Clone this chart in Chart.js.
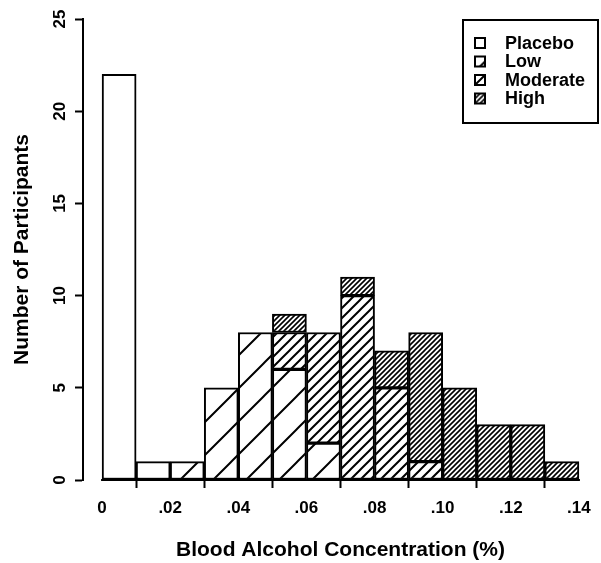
<!DOCTYPE html>
<html>
<head>
<meta charset="utf-8">
<script src="https://cdn.jsdelivr.net/npm/chart.js@4.4.1/dist/chart.umd.min.js"></script>
<style>
  html, body { margin: 0; padding: 0; background: #fff; }
</style>
</head>
<body>
<canvas id="myChart" width="601" height="563"></canvas>
<script>
// bins of width .01, given by their centres
const binCenters = [0.005, 0.015, 0.025, 0.035, 0.045, 0.055, 0.065, 0.075, 0.085, 0.095, 0.105, 0.115, 0.125, 0.135];
const placebo  = [22, 1, 0, 0, 0, 0, 0, 0, 0, 0, 0, 0, 0, 0];
const low      = [0, 0, 1, 5, 8, 6, 2, 0, 0, 0, 0, 0, 0, 0];
const moderate = [0, 0, 0, 0, 0, 2, 6, 10, 5, 1, 0, 0, 0, 0];
const high     = [0, 0, 0, 0, 0, 1, 0, 1, 2, 7, 5, 3, 3, 1];

const xTickValues = [0, 0.02, 0.04, 0.06, 0.08, 0.10, 0.12, 0.14];
const xTickLabels = ['0', '.02', '.04', '.06', '.08', '.10', '.12', '.14'];
const yTickValues = [0, 5, 10, 15, 20, 25];

const FONT = '"Liberation Sans", Arial, Helvetica, sans-serif';
const ctx = document.getElementById('myChart');

// diagonal "/" hatching, spacing = vertical distance between lines
function hatch(spacing, lineWidth) {
    const c = document.createElement('canvas');
    c.width = spacing;
    c.height = spacing;
    const g = c.getContext('2d');
    g.fillStyle = '#fff';
    g.fillRect(0, 0, spacing, spacing);
    g.strokeStyle = '#000';
    g.lineWidth = lineWidth;
    g.beginPath();
    g.moveTo(-1, spacing + 1); g.lineTo(spacing + 1, -1);
    g.moveTo(-2, 2); g.lineTo(2, -2);
    g.moveTo(spacing - 2, spacing + 2); g.lineTo(spacing + 2, spacing - 2);
    g.stroke();
    return g.createPattern(c, 'repeat');
}

function points(values) {
    return binCenters.map((x, i) => ({ x: x, y: values[i] ? values[i] : null }));
}

// R style x axis line that only runs from first to last tick
const xAxisLine = {
    id: 'xAxisLine',
    afterDatasetsDraw(chart) {
        const c = chart.ctx, xs = chart.scales.x, ys = chart.scales.y;
        c.save();
        c.strokeStyle = '#000';
        c.lineWidth = 2;
        c.beginPath();
        c.moveTo(xs.getPixelForValue(xTickValues[0]) - 1, ys.getPixelForValue(0));
        c.lineTo(xs.getPixelForValue(xTickValues[xTickValues.length - 1]) + 1, ys.getPixelForValue(0));
        c.stroke();
        c.restore();
    }
};

// boxed legend in the top right corner of the plot
const iconShift = [0, 9, 0, 0]; // moves the hatching inside each small key square
const boxLegend = {
    id: 'boxLegend',
    afterDraw(chart) {
        const c = chart.ctx, area = chart.chartArea;
        const w = 135, h = 103;
        const x0 = area.right - w, y0 = area.top + 1;
        c.save();
        c.strokeStyle = '#000';
        c.lineWidth = 2;
        c.strokeRect(x0, y0, w, h);
        c.font = 'bold 18px ' + FONT;
        c.textBaseline = 'middle';
        c.textAlign = 'left';
        chart.data.datasets.forEach((ds, i) => {
            const cy = y0 + 23 + i * 18.5;
            const s = iconShift[i];
            c.save();
            c.translate(x0 + 12 - s, cy - 5 - s);
            c.fillStyle = ds.backgroundColor;
            c.fillRect(s, s, 10, 10);
            c.strokeRect(s, s, 10, 10);
            c.restore();
            c.fillStyle = '#000';
            c.fillText(ds.label, x0 + 42, cy + 1);
        });
        c.restore();
    }
};

const barStyle = { borderColor: '#000', borderWidth: 2, borderSkipped: false, barPercentage: 1, categoryPercentage: 1 };

new Chart(ctx, {
    type: 'bar',
    data: {
        datasets: [
            Object.assign({ label: 'Placebo', data: points(placebo), backgroundColor: '#fff' }, barStyle),
            Object.assign({ label: 'Low', data: points(low), backgroundColor: hatch(33, 2) }, barStyle),
            Object.assign({ label: 'Moderate', data: points(moderate), backgroundColor: hatch(10, 2) }, barStyle),
            Object.assign({ label: 'High', data: points(high), backgroundColor: hatch(5, 1.6) }, barStyle)
        ]
    },
    options: {
        responsive: false,
        animation: false,
        devicePixelRatio: 1,
        layout: { padding: { top: 19, right: 3, left: 0, bottom: 0 } },
        plugins: { legend: { display: false }, tooltip: { enabled: false } },
        scales: {
            x: {
                type: 'linear',
                stacked: true,
                offset: false,
                min: -0.0056,
                max: 0.1456,
                afterBuildTicks(scale) { scale.ticks = xTickValues.map(v => ({ value: v })); },
                afterFit(scale) { scale.height = 83; scale.paddingLeft = 0; scale.paddingRight = 0; },
                grid: { drawOnChartArea: false, drawTicks: true, tickLength: 8, tickWidth: 2, tickColor: '#000' },
                border: { display: false },
                ticks: {
                    autoSkip: false, maxRotation: 0, minRotation: 0, padding: 10,
                    color: '#000', font: { family: FONT, size: 17, weight: 'bold' },
                    callback: (v) => xTickLabels[xTickValues.indexOf(v)]
                },
                title: {
                    display: true, text: 'Blood Alcohol Concentration (%)', color: '#000',
                    font: { family: FONT, size: 21, weight: 'bold' }, padding: { top: 7, bottom: 0 }
                }
            },
            y: {
                stacked: true,
                min: yTickValues[0],
                max: yTickValues[yTickValues.length - 1],
                afterBuildTicks(scale) { scale.ticks = yTickValues.map(v => ({ value: v })); },
                afterFit(scale) { scale.width = 83; scale.paddingTop = 0; scale.paddingBottom = 0; },
                grid: { drawOnChartArea: false, drawTicks: true, tickLength: 8, tickWidth: 2, tickColor: '#000' },
                border: { display: true, color: '#000', width: 2 },
                ticks: {
                    autoSkip: false, minRotation: 90, maxRotation: 90, crossAlign: 'center', padding: 5,
                    color: '#000', font: { family: FONT, size: 17, weight: 'bold' }
                },
                title: {
                    display: true, text: 'Number of Participants', color: '#000',
                    font: { family: FONT, size: 21, weight: 'bold' }, padding: { top: 10, bottom: 0 }
                }
            }
        }
    },
    plugins: [xAxisLine, boxLegend]
});
</script>
</body>
</html>
